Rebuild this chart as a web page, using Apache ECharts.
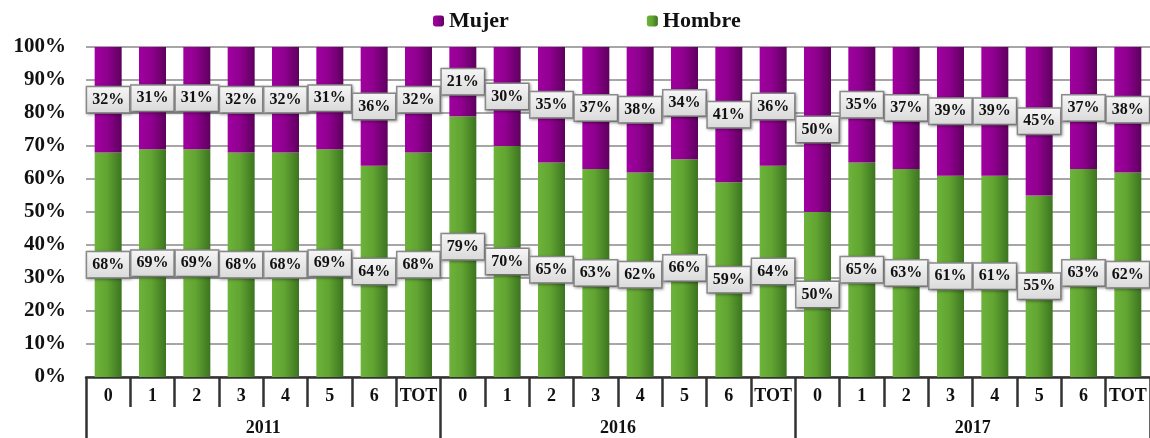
<!DOCTYPE html>
<html>
<head>
<meta charset="utf-8">
<script src="https://cdn.jsdelivr.net/npm/echarts@6/dist/echarts.min.js"></script>
<style>
html,body{margin:0;padding:0;background:#fff;}
#chart{width:1150px;height:438px;}
</style>
</head>
<body>
<div id="chart"></div>
<script>
var years = ['2011', '2016', '2017'];
var groups = ['0', '1', '2', '3', '4', '5', '6', 'TOT'];
var categories = [];
years.forEach(function () { groups.forEach(function (g) { categories.push(g); }); });

var hombre = [68, 69, 69, 68, 68, 69, 64, 68,
              79, 70, 65, 63, 62, 66, 59, 64,
              50, 65, 63, 61, 61, 55, 63, 62];
var mujer  = [32, 31, 31, 32, 32, 31, 36, 32,
              21, 30, 35, 37, 38, 34, 41, 36,
              50, 35, 37, 39, 39, 45, 37, 38];
var yTicks = [0, 10, 20, 30, 40, 50, 60, 70, 80, 90, 100];

var FONT = '"Liberation Serif", "Times New Roman", serif';

function grad(c0, c1, c2) {
  return new echarts.graphic.LinearGradient(0, 0, 1, 0, [
    {offset: 0, color: c0}, {offset: 0.45, color: c1}, {offset: 1, color: c2}
  ]);
}

var labelStyle = {
  show: true,
  position: 'inside',
  formatter: '{c}%',
  fontFamily: FONT,
  fontWeight: 'bold',
  fontSize: 16,
  color: '#111',
  padding: [5, 5, 4, 5],
  borderColor: '#8c8c8c',
  borderWidth: 1.5,
  backgroundColor: new echarts.graphic.LinearGradient(0, 0, 0, 1, [
    {offset: 0, color: '#f7f7f7'}, {offset: 1, color: '#d9d9d9'}
  ]),
  shadowColor: 'rgba(0,0,0,0.35)',
  shadowBlur: 3,
  shadowOffsetX: 1,
  shadowOffsetY: 1
};

var chart = echarts.init(document.getElementById('chart'), null, {renderer: 'canvas'});
chart.setOption({
  animation: false,
  backgroundColor: '#fff',
  legend: {
    data: ['Mujer', 'Hombre'],
    left: 428,
    top: 5,
    itemWidth: 11,
    itemHeight: 11,
    itemGap: 138,
    textStyle: {fontFamily: FONT, fontWeight: 'bold', fontSize: 22, color: '#111'}
  },
  grid: {left: 86, top: 47, width: 1069, height: 330, containLabel: false},
  xAxis: [{
    type: 'category',
    data: categories,
    position: 'bottom',
    axisLine: {show: true, lineStyle: {color: '#333', width: 2.5}},
    axisTick: {show: true, length: 30, lineStyle: {color: '#333', width: 2.5}},
    axisLabel: {fontFamily: FONT, fontWeight: 'bold', fontSize: 18, color: '#111', margin: 10, interval: 0}
  }, {
    type: 'category',
    data: years,
    position: 'bottom',
    axisLine: {show: false},
    axisTick: {show: true, length: 64, lineStyle: {color: '#333', width: 2.5}},
    axisLabel: {fontFamily: FONT, fontWeight: 'bold', fontSize: 18, color: '#111', margin: 42}
  }],
  yAxis: {
    type: 'value',
    min: yTicks[0],
    max: yTicks[yTicks.length - 1],
    interval: 10,
    axisLine: {show: false},
    axisTick: {show: false},
    splitLine: {show: true, lineStyle: {color: '#a6a6a6', width: 2}},
    axisLabel: {
      formatter: '{value}%',
      fontFamily: FONT, fontWeight: 'bold', fontSize: 21, color: '#111', margin: 20
    }
  },
  series: [{
    name: 'Hombre',
    type: 'bar',
    stack: 'total',
    xAxisIndex: 0,
    data: hombre,
    barWidth: 27,
    itemStyle: {color: grad('#6cb33a', '#62a532', '#3c7420')},
    label: labelStyle,
    z: 2
  }, {
    name: 'Mujer',
    type: 'bar',
    stack: 'total',
    xAxisIndex: 0,
    data: mujer,
    barWidth: 27,
    itemStyle: {color: grad('#a000a0', '#90008f', '#5e005e')},
    label: labelStyle,
    z: 2
  }]
});
</script>
</body>
</html>
